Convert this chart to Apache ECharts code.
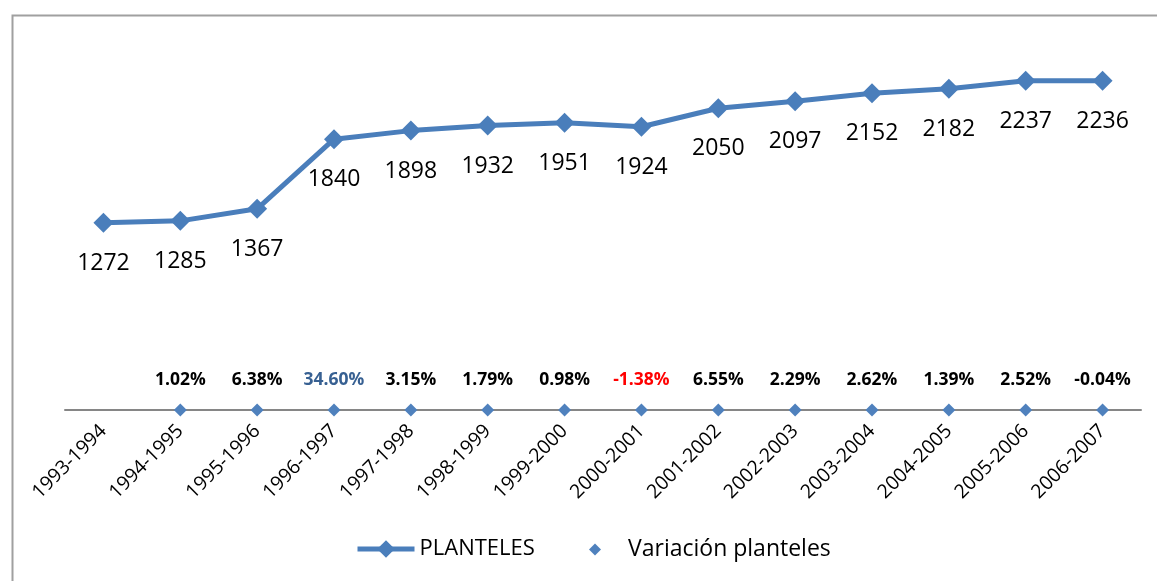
<!DOCTYPE html>
<html>
<head>
<meta charset="utf-8">
<script src="https://cdn.jsdelivr.net/npm/echarts@6/dist/echarts.min.js"></script>
<style>html,body{margin:0;padding:0;background:#fff;}#c{width:1157px;height:581px;}</style>
</head>
<body>
<div id="c"></div>
<script>
const categories = ['1993-1994','1994-1995','1995-1996','1996-1997','1997-1998','1998-1999','1999-2000','2000-2001','2001-2002','2002-2003','2003-2004','2004-2005','2005-2006','2006-2007'];
const planteles = [1272, 1285, 1367, 1840, 1898, 1932, 1951, 1924, 2050, 2097, 2152, 2182, 2237, 2236];
const variacionPct = [null, 1.02, 6.38, 34.60, 3.15, 1.79, 0.98, -1.38, 6.55, 2.29, 2.62, 1.39, 2.52, -0.04];
const seriesNames = ['PLANTELES', 'Variación planteles'];

const FONT = '"Open Sans", "Noto Sans", sans-serif';
const labelColorOverrides = { '1996-1997': '#376092', '2000-2001': '#FF0000' };

const scatterData = variacionPct.map((v, i) => {
  if (v === null) return null;
  const item = { value: v / 100 };
  const c = labelColorOverrides[categories[i]];
  if (c) item.label = { color: c };
  return item;
});

const chart = echarts.init(document.getElementById('c'));
chart.setOption({
  animation: false,
  backgroundColor: '#ffffff',
  graphic: [{
    type: 'rect', left: 10, top: 13, z: -10,
    shape: { width: 1300, height: 700 },
    style: { fill: 'none', stroke: '#a0a0a0', lineWidth: 2 }
  }],
  grid: { left: 65, right: 16, top: 42, bottom: 171, containLabel: false },
  legend: [{
    data: [seriesNames[0]], left: 350, top: 533,
    itemWidth: 57, itemHeight: 22,
    lineStyle: { width: 5 },
    textStyle: { fontFamily: FONT, fontSize: 22, color: '#000' }
  }, {
    data: [{ name: seriesNames[1], icon: 'diamond' }], left: 584, top: 533,
    itemWidth: 12, itemHeight: 12,
    itemStyle: { opacity: 1 },
    textStyle: { fontFamily: FONT, fontSize: 23, color: '#000', padding: [0, 0, 0, 22] }
  }],
  xAxis: {
    type: 'category', data: categories, boundaryGap: true,
    axisTick: { show: false },
    axisLine: { lineStyle: { color: '#868686', width: 2 } },
    axisLabel: { rotate: 45, margin: 18, fontFamily: FONT, fontSize: 19.5, color: '#000', interval: 0 }
  },
  yAxis: { type: 'value', min: 0, max: 2500, show: false, splitLine: { show: false } },
  series: [{
    name: seriesNames[0], type: 'line', data: planteles,
    symbol: 'diamond', symbolSize: 20,
    lineStyle: { color: '#4A7EBB', width: 5 },
    itemStyle: { color: '#4A7EBB' },
    label: { show: true, position: 'bottom', distance: 19, fontFamily: FONT, fontSize: 23, color: '#000' },
    z: 3
  }, {
    name: seriesNames[1], type: 'scatter', data: scatterData,
    symbol: 'diamond', symbolSize: 13,
    itemStyle: { color: '#4F81BD', opacity: 1 },
    label: {
      show: true, position: 'top', distance: 14,
      fontFamily: FONT, fontSize: 17.5, fontWeight: 'bold', color: '#000',
      formatter: p => variacionPct[p.dataIndex].toFixed(2) + '%'
    },
    z: 4
  }]
});
</script>
</body>
</html>
